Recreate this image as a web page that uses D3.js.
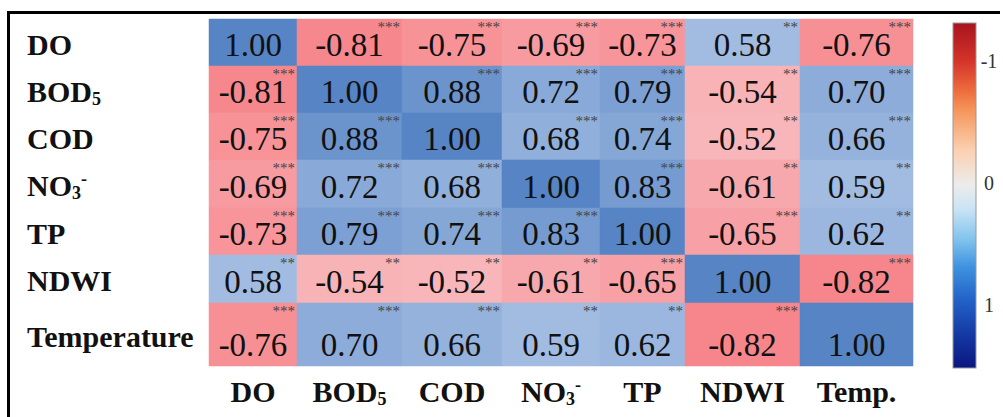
<!DOCTYPE html>
<html>
<head>
<meta charset="utf-8">
<script src="https://cdn.jsdelivr.net/npm/d3@7"></script>
<style>
  html, body { margin: 0; padding: 0; background: #fff; }
  svg { display: block; }
  svg text { font-family: "Liberation Serif", "DejaVu Serif", "Times New Roman", Times, serif; }
</style>
</head>
<body>
<div id="chart"></div>
<script>
// variables, in row/column order
var rowLabels = ["DO", "BOD_5", "COD", "NO_3^-", "TP", "NDWI", "Temperature"];
var colLabels = ["DO", "BOD_5", "COD", "NO_3^-", "TP", "NDWI", "Temp."];

// correlation coefficients
var rDO   = [ 1.00, -0.81, -0.75, -0.69, -0.73,  0.58, -0.76];
var rBOD  = [-0.81,  1.00,  0.88,  0.72,  0.79, -0.54,  0.70];
var rCOD  = [-0.75,  0.88,  1.00,  0.68,  0.74, -0.52,  0.66];
var rNO3  = [-0.69,  0.72,  0.68,  1.00,  0.83, -0.61,  0.59];
var rTP   = [-0.73,  0.79,  0.74,  0.83,  1.00, -0.65,  0.62];
var rNDWI = [ 0.58, -0.54, -0.52, -0.61, -0.65,  1.00, -0.82];
var rTemp = [-0.76,  0.70,  0.66,  0.59,  0.62, -0.82,  1.00];

// significance marks
var sDO   = ["",    "***", "***", "***", "***", "**",  "***"];
var sBOD  = ["***", "",    "***", "***", "***", "**",  "***"];
var sCOD  = ["***", "***", "",    "***", "***", "**",  "***"];
var sNO3  = ["***", "***", "***", "",    "***", "**",  "**"];
var sTP   = ["***", "***", "***", "***", "",    "***", "**"];
var sNDWI = ["**",  "**",  "**",  "**",  "***", "",    "***"];
var sTemp = ["***", "***", "***", "**",  "**",  "***", ""];

var colorTicks = [-1, 0, 1];

var values = [rDO, rBOD, rCOD, rNO3, rTP, rNDWI, rTemp];
var stars = [sDO, sBOD, sCOD, sNO3, sTP, sNDWI, sTemp];

var width = 1003, height = 417;

// cell layout (the source figure has uneven cells)
var colW = [88, 105, 100, 98, 85, 115, 113];
var rowH = [47, 47, 47, 48, 47, 48, 63];
var x0 = 209, y0 = 19;

var colStart = d3.cumsum([0].concat(colW)).slice(0, colW.length);
var rowStart = d3.cumsum([0].concat(rowH)).slice(0, rowH.length);
var idx = d3.range(colW.length);

var x = d3.scaleOrdinal().domain(idx).range(Array.from(colStart, d => x0 + d));
var xw = d3.scaleOrdinal().domain(idx).range(colW);
var y = d3.scaleOrdinal().domain(idx).range(Array.from(rowStart, d => y0 + d));
var yh = d3.scaleOrdinal().domain(idx).range(rowH);

var color = d3.scaleLinear()
  .domain([-1, -0.5, 0, 0.5, 1])
  .range(["#f56a70", "#f8b9bd", "#f5f5f5", "#b1c7e7", "#5684c4"])
  .clamp(true);

var svg = d3.select("#chart").append("svg")
  .attr("width", width)
  .attr("height", height);

// frame
svg.append("path")
  .attr("d", "M8.5," + height + "V12.5H1000")
  .attr("fill", "none")
  .attr("stroke", "#000")
  .attr("stroke-width", 3);

var cells = [];
values.forEach((row, i) => row.forEach((v, j) => cells.push({i: i, j: j, v: v, s: stars[i][j]})));

svg.selectAll("rect.cell")
  .data(cells)
  .enter().append("rect")
  .attr("class", "cell")
  .attr("x", d => x(d.j))
  .attr("y", d => y(d.i))
  .attr("width", d => xw(d.j))
  .attr("height", d => yh(d.i))
  .attr("fill", d => color(d.v))
  .attr("stroke", d => color(d.v))
  .attr("stroke-width", 0.5);

svg.selectAll("text.val")
  .data(cells)
  .enter().append("text")
  .attr("class", "val")
  .attr("x", d => x(d.j) + xw(d.j) / 2)
  .attr("y", d => y(d.i) + yh(d.i) - 10)
  .attr("text-anchor", "middle")
  .style("font-size", "33px")
  .style("fill", "#111")
  .text(d => d.v.toFixed(2));

svg.selectAll("text.star")
  .data(cells.filter(d => d.s))
  .enter().append("text")
  .attr("class", "star")
  .attr("x", d => x(d.j) + xw(d.j) - 2)
  .attr("y", d => y(d.i) + 13)
  .attr("text-anchor", "end")
  .style("font-size", "15px")
  .style("fill", "#444")
  .text(d => d.s);

// labels with sub/superscripts: "_x" subscript, "^x" superscript
function writeLabel(sel, str) {
  var parts = str.match(/[_^].|[^_^]+/g);
  var shift = 0;
  parts.forEach(p => {
    var t = sel.append("tspan");
    if (p[0] === "_") {
      t.attr("dy", 3 - shift).style("font-size", "60%").text(p[1]);
      shift = 3;
    } else if (p[0] === "^") {
      t.attr("dy", -11 - shift).style("font-size", "60%").text(p[1]);
      shift = -11;
    } else {
      t.attr("dy", -shift).text(p);
      shift = 0;
    }
  });
}

svg.selectAll("text.rowlab")
  .data(rowLabels)
  .enter().append("text")
  .attr("class", "rowlab")
  .attr("x", 27)
  .attr("y", (d, i) => y(i) + Math.min(yh(i), 52) / 2 + 12 + (i === 6 ? 6 : 0))
  .style("font-weight", "bold")
  .style("font-size", "30px")
  .style("fill", "#111")
  .each(function(d) { writeLabel(d3.select(this), d); });

svg.selectAll("text.collab")
  .data(colLabels)
  .enter().append("text")
  .attr("class", "collab")
  .attr("x", (d, j) => x(j) + xw(j) / 2)
  .attr("y", 402)
  .attr("text-anchor", "middle")
  .style("font-weight", "bold")
  .style("font-size", "30px")
  .style("fill", "#111")
  .each(function(d) { writeLabel(d3.select(this), d); });

// colour bar
var barX = 953, barW = 23, barTop = 23, barBottom = 368;
var stops = [
  [0, "#a8141e"], [0.107, "#d2322a"], [0.194, "#ee6a3c"], [0.252, "#f5955a"],
  [0.368, "#fbd0b0"], [0.47, "#ececec"], [0.542, "#c8e3f5"], [0.629, "#80c2ee"],
  [0.707, "#3f92e0"], [0.803, "#2262c8"], [0.899, "#163aa5"], [1, "#0a1680"]
];
var grad = svg.append("defs").append("linearGradient")
  .attr("id", "cbar")
  .attr("x1", 0).attr("y1", 0).attr("x2", 0).attr("y2", 1);
grad.selectAll("stop")
  .data(stops)
  .enter().append("stop")
  .attr("offset", d => d[0])
  .attr("stop-color", d => d[1]);

svg.append("rect")
  .attr("x", barX)
  .attr("y", barTop)
  .attr("width", barW)
  .attr("height", barBottom - barTop)
  .attr("fill", "url(#cbar)")
  .attr("stroke", "#999")
  .attr("stroke-width", 1);

var cy = d3.scaleLinear().domain([-1, 1]).range([61, 305]);
svg.selectAll("text.ctick")
  .data(colorTicks)
  .enter().append("text")
  .attr("class", "ctick")
  .attr("x", 989)
  .attr("y", d => cy(d) + 7)
  .attr("text-anchor", "middle")
  .style("font-size", "20px")
  .style("fill", "#333")
  .text(d => d);
</script>
</body>
</html>
